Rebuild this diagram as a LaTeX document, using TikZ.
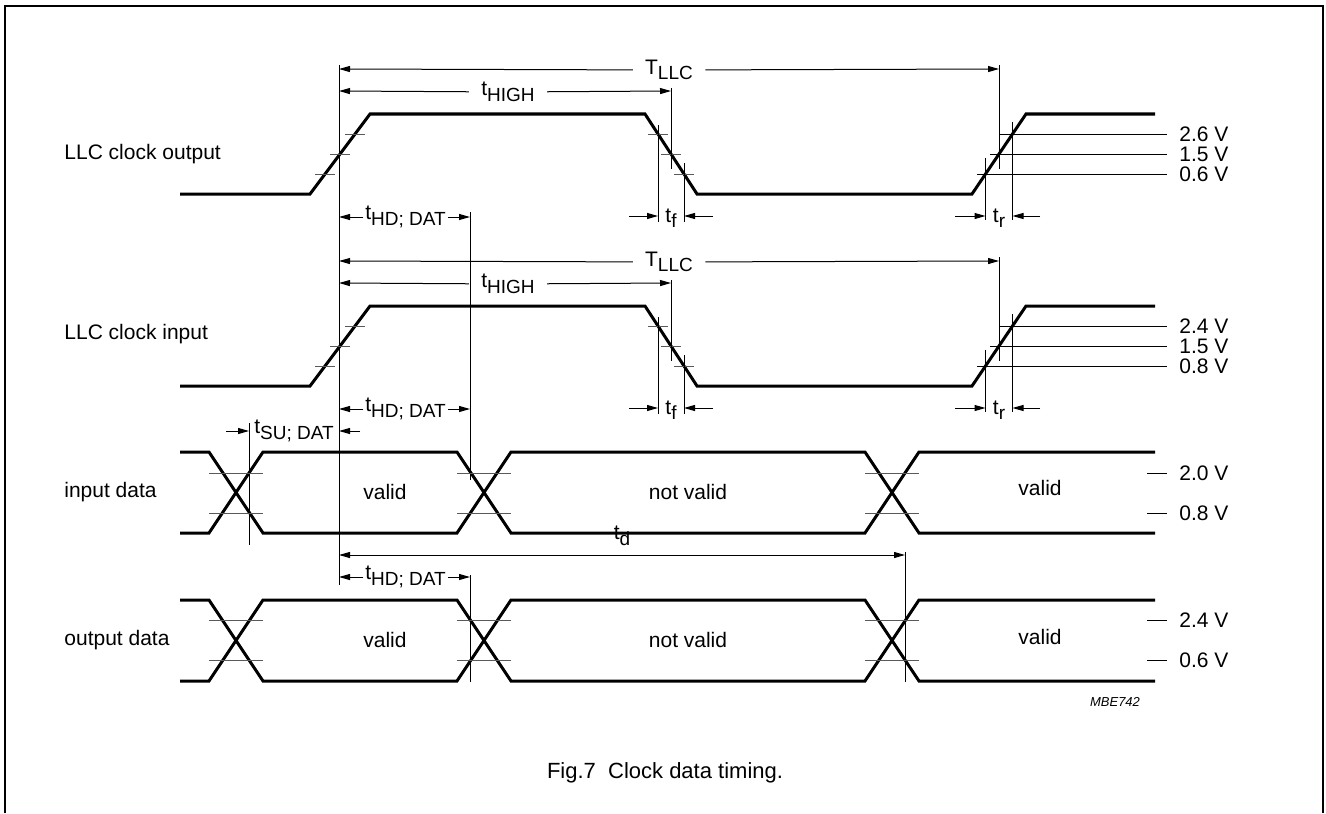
\documentclass[tikz,border=0pt]{standalone}
\usepackage{fontspec}
\setmainfont{Liberation Sans}
\usetikzlibrary{arrows.meta}

\tikzset{
  frame/.style={line width=0.7pt},
  wave/.style={line width=1.5pt, line join=miter},
  guide/.style={line width=0.5pt},
  tick/.style={line width=0.5pt, black!65},
  dim/.style={line width=0.5pt, -{Triangle[length=5.5pt,width=3pt]}},
  lbl/.style={font=\fontsize{10.5}{12}\selectfont, inner sep=1pt},
  dimlbl/.style={lbl, inner xsep=6pt},
  vlbl/.style={lbl, anchor=west},
}
\newcommand\lowsub[1]{\raisebox{-0.5ex}{\fontsize{9.5}{11}\selectfont #1}}

\begin{document}
\begin{tikzpicture}[x=0.5pt, y=-0.5pt]
\useasboundingbox (0,0) rectangle (1326,813);
% frame, open at the bottom
\draw[frame] (5,813) -- (5,6) -- (1323,6) -- (1323,813);

% long reference lines
\draw[guide] (339,65) -- (339,585);
\draw[guide] (470,212) -- (470,480);
\draw[guide] (470,575) -- (470,682);
\draw[guide] (905,552) -- (905,682);
\draw[guide] (249,423) -- (249,545);

% clock rows
\foreach \dy/\vhi/\vlo in {0/2.6/0.6, 192/2.4/0.8} {
  \draw[wave] (180,194+\dy) -- (310,194+\dy) -- (370,114+\dy) -- (645,114+\dy)
    -- (697,194+\dy) -- (972,194+\dy) -- (1026,114+\dy) -- (1155,114+\dy);
  \foreach \yy/\xa/\xb in {134/355/658, 154/340/671, 174/325/684}
    \draw[tick] (\xa-10,\yy+\dy) -- (\xa+10,\yy+\dy) (\xb-10,\yy+\dy) -- (\xb+10,\yy+\dy);
  % level lines
  \draw[guide] (1000,134+\dy) -- (1167,134+\dy);
  \draw[guide] (990,154+\dy) -- (1167,154+\dy);
  \draw[guide] (977,174+\dy) -- (1167,174+\dy);
  \node[vlbl] (vhi\dy) at (1177,134+\dy) {\vhi\ V};
  \node[vlbl] (vmid\dy) at (1177,154+\dy) {1.5 V};
  \node[vlbl] (vlo\dy) at (1177,174+\dy) {\vlo\ V};
  % edge markers
  \draw[guide] (658,125+\dy) -- (658,222+\dy);
  \draw[guide] (671,88+\dy) -- (671,169+\dy);
  \draw[guide] (684,163+\dy) -- (684,222+\dy);
  \draw[guide] (985.5,158+\dy) -- (985.5,220+\dy);
  \draw[guide] (999,65+\dy) -- (999,169+\dy);
  \draw[guide] (1012.5,122+\dy) -- (1012.5,220+\dy);
  % period
  \node[dimlbl] (tllc\dy) at (669,70+\dy) {T\lowsub{LLC}};
  \coordinate (tllcL\dy) at (339,69+\dy);
  \coordinate (tllcR\dy) at (999,69+\dy);
  \draw[dim] (tllc\dy) -- (tllcL\dy);
  \draw[dim] (tllc\dy) -- (tllcR\dy);
  % high time
  \node[dimlbl] (thigh\dy) at (508,92+\dy) {t\lowsub{HIGH}};
  \coordinate (thighL\dy) at (339,91+\dy);
  \coordinate (thighR\dy) at (671,91+\dy);
  \draw[dim] (thigh\dy) -- (thighL\dy);
  \draw[dim] (thigh\dy) -- (thighR\dy);
  % fall time
  \node[lbl] (tf\dy) at (671,218+\dy) {t\lowsub{f}};
  \draw[dim] (629,216+\dy) -- (658,216+\dy);
  \draw[dim] (713,216+\dy) -- (684,216+\dy);
  % rise time
  \node[lbl] (tr\dy) at (999,218+\dy) {t\lowsub{r}};
  \draw[dim] (955,216+\dy) -- (985.5,216+\dy);
  \draw[dim] (1040,216+\dy) -- (1012.5,216+\dy);
  % hold time
  \node[lbl, anchor=west] (thd\dy) at (363,217+\dy) {t\lowsub{HD; DAT}};
  \coordinate (thdL\dy) at (339,217+\dy);
  \coordinate (thdR\dy) at (470,217+\dy);
  \draw[dim] (thd\dy) -- (thdL\dy);
  \draw[dim] (thd\dy) -- (thdR\dy);
}

% data rows
\foreach \hi/\lo/\ta/\tb/\va/\vb in {452/533/473/513/2.0/0.8, 600/681/620/660/2.4/0.6} {
  \draw[wave] (180,\hi) -- (209,\hi) -- (263,\lo) -- (457,\lo) -- (511,\hi)
    -- (865,\hi) -- (919,\lo) -- (1155,\lo);
  \draw[wave] (180,\lo) -- (209,\lo) -- (263,\hi) -- (457,\hi) -- (511,\lo)
    -- (865,\lo) -- (919,\hi) -- (1155,\hi);
  \foreach \xa in {209,457,865}
    \draw[tick] (\xa,\ta) -- (\xa+54,\ta) (\xa,\tb) -- (\xa+54,\tb);
  \draw[guide] (1147,\ta) -- (1167,\ta) (1147,\tb) -- (1167,\tb);
  \node[vlbl] at (1177,\ta) {\va\ V};
  \node[vlbl] at (1177,\tb) {\vb\ V};
}

% setup time
\node[lbl, anchor=west] (tsu) at (252,431) {t\lowsub{SU; DAT}};
\draw[dim] (226,431) -- (249,431);
\draw[dim] (360,431) -- (339,431);

% hold time, output data
\node[lbl, anchor=west] (thdout) at (363,577) {t\lowsub{HD; DAT}};
\coordinate (thdoutL) at (339,577);
\coordinate (thdoutR) at (470,577);
\draw[dim] (thdout) -- (thdoutL);
\draw[dim] (thdout) -- (thdoutR);

% delay
\coordinate (tdL) at (339,555);
\coordinate (tdR) at (905,555);
\draw[dim, {Triangle[length=5.5pt,width=3pt]}-{Triangle[length=5.5pt,width=3pt]}] (tdL) -- (tdR);
\node[lbl] (td) at (622,536) {t\lowsub{d}};

% signal names
\node[lbl, anchor=west] (clkout) at (62,154) {LLC clock output};
\node[lbl, anchor=west] (clkin) at (62,334) {LLC clock input};
\node[lbl, anchor=west] (datin) at (62,492) {input data};
\node[lbl, anchor=west] (datout) at (62,640) {output data};

% data states
\node[lbl] (inv1) at (385,492) {valid};
\node[lbl] (inv2) at (688,492) {not valid};
\node[lbl] (inv3) at (1040,488) {valid};
\node[lbl] (outv1) at (385,640) {valid};
\node[lbl] (outv2) at (688,640) {not valid};
\node[lbl] (outv3) at (1040,637) {valid};

\node[font=\fontsize{6.5}{8}\selectfont\itshape] (code) at (1115,702) {MBE742};
\node[font=\fontsize{11}{13}\selectfont] (caption) at (665,773) {Fig.7\ \ Clock data timing.};
\end{tikzpicture}
\end{document}
